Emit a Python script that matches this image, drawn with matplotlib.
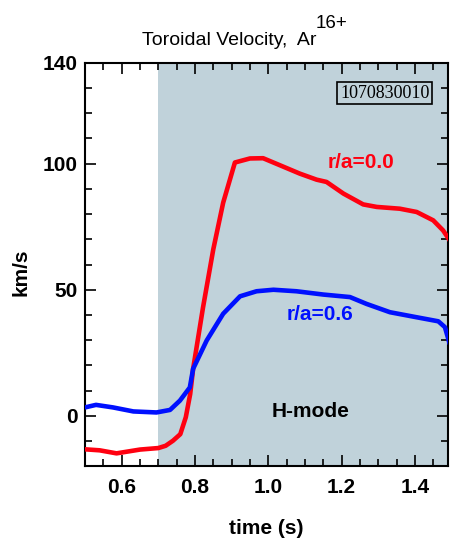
import matplotlib
matplotlib.use("Agg")
import matplotlib.pyplot as plt
import numpy as np
from matplotlib.ticker import MultipleLocator

plt.rcParams['font.family'] = ['Liberation Sans', 'DejaVu Sans']

# r/a = 0.0 (red)
t_core = [0.50, 0.54, 0.586, 0.65, 0.70, 0.72, 0.74, 0.76, 0.775, 0.787, 0.795,
          0.822, 0.85, 0.877, 0.909, 0.95, 0.986, 1.032, 1.086, 1.132, 1.159,
          1.205, 1.259, 1.296, 1.359, 1.405, 1.45, 1.477, 1.495]
v_core = [-13.2, -13.6, -14.8, -13.3, -12.7, -11.8, -9.8, -7.2, -0.5, 8.7, 18.7,
          43.0, 66.0, 84.5, 100.4, 102.0, 102.1, 99.3, 96.0, 93.6, 92.7,
          88.1, 83.8, 82.8, 82.1, 80.8, 77.5, 73.5, 69.6]

# r/a = 0.6 (blue)
t_mid = [0.50, 0.53, 0.576, 0.632, 0.695, 0.732, 0.759, 0.786, 0.795, 0.832,
         0.877, 0.923, 0.968, 1.014, 1.077, 1.15, 1.223, 1.268, 1.332, 1.405,
         1.464, 1.482, 1.495]
v_mid = [3.4, 4.4, 3.4, 1.8, 1.4, 2.4, 6.1, 11.3, 18.7, 29.9,
         40.5, 47.4, 49.4, 50.0, 49.4, 48.1, 47.1, 44.4, 41.1, 39.1,
         37.5, 35.2, 28.6]

hmode_start, hmode_end = 0.70, 1.5
xticks = [0.6, 0.8, 1.0, 1.2, 1.4]
yticks = [0, 50, 100, 140]

fig = plt.figure(figsize=(4.51, 5.47), dpi=100)
ax = fig.add_axes([0.1885, 0.1472, 0.8045, 0.7385])
ax.axvspan(hmode_start, hmode_end, color='#c0d2da', lw=0, zorder=0)
ax.plot(t_core, v_core, color='#ff0010', lw=3.3, solid_capstyle='round',
        solid_joinstyle='round', zorder=3)
ax.plot(t_mid, v_mid, color='#0010ff', lw=3.3, solid_capstyle='round',
        solid_joinstyle='round', zorder=3)

ax.set_xlim(0.5, 1.49)
ax.set_ylim(-20, 140)
ax.set_xticks(xticks)
ax.set_xticklabels([f"{x:.1f}" for x in xticks])
ax.set_yticks(yticks)
ax.set_yticklabels([str(y) for y in yticks])
ax.xaxis.set_minor_locator(MultipleLocator(0.05))
ax.yaxis.set_minor_locator(MultipleLocator(10))
ax.tick_params(which='both', direction='in', top=True, right=True, width=1.2,
               labelsize=15)
ax.tick_params(axis='x', which='major', pad=8)
ax.tick_params(axis='y', which='major', pad=5)
ax.tick_params(which='major', length=8)
ax.tick_params(which='minor', length=5)
for lab in ax.get_xticklabels() + ax.get_yticklabels():
    lab.set_fontweight('bold')
for s in ax.spines.values():
    s.set_linewidth(1.5)

ax.set_xlabel('time (s)', fontsize=15, fontweight='bold')
ax.xaxis.set_label_coords(0.5, -0.13)
ax.set_ylabel('km/s', fontsize=15, fontweight='bold')
ax.yaxis.set_label_coords(-0.15, 0.48)

fig.text(142 / 451, 1 - 45 / 547, 'Toroidal Velocity,  Ar', ha='left',
         va='baseline', fontsize=14)
fig.text(316 / 451, 1 - 28 / 547, '16+', ha='left', va='baseline', fontsize=13.5)

ax.text(1.254, 100.3, 'r/a=0.0', color='#ff0010', fontsize=15, fontweight='bold',
        ha='center', va='center')
ax.text(1.141, 40.2, 'r/a=0.6', color='#0010ff', fontsize=15, fontweight='bold',
        ha='center', va='center')
ax.text(1.115, 1.8, 'H-mode', color='black', fontsize=15, fontweight='bold',
        ha='center', va='center')
ax.text(1.318, 127.9, '1070830010', family='Liberation Serif', fontsize=13,
        ha='center', va='center',
        bbox=dict(boxstyle='square,pad=0.15', fc='none', ec='black', lw=1.2))

fig.savefig('out.png', dpi=100)
